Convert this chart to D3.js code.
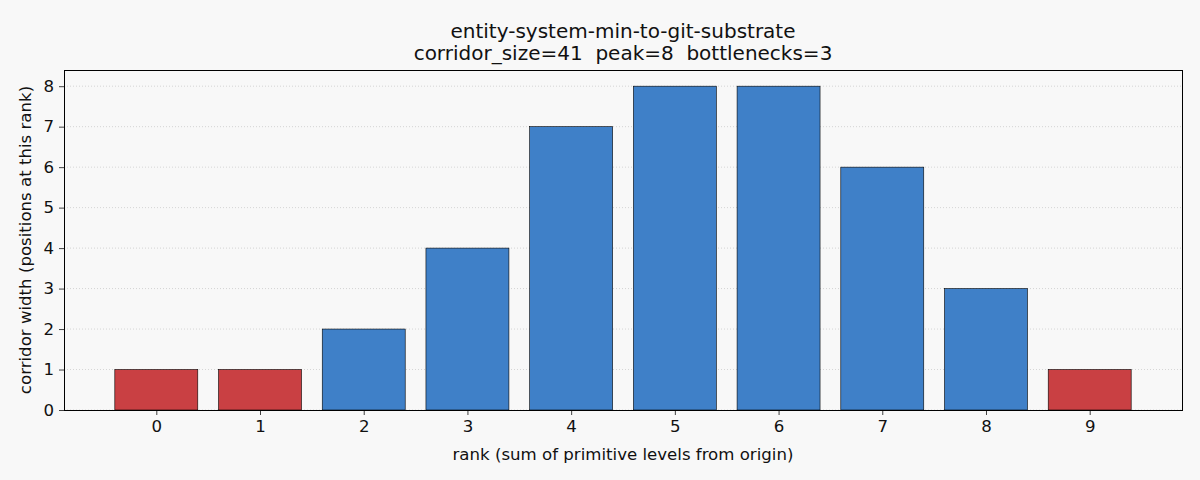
<!DOCTYPE html>
<html>
<head>
<meta charset="utf-8">
<script src="https://cdn.jsdelivr.net/npm/d3@7"></script>
<style>
  body { margin: 0; background: #f8f8f8; }
  svg { font-family: "DejaVu Sans", sans-serif; }
</style>
</head>
<body>
<div id="chart"></div>
<script>
// corridor widths per rank
let ranks = [0, 1, 2, 3, 4, 5, 6, 7, 8, 9];
let widths = [1, 1, 2, 4, 7, 8, 8, 6, 3, 1];
let bottleneck = [true, true, false, false, false, false, false, false, false, true];
let yTicks = [0, 1, 2, 3, 4, 5, 6, 7, 8];

let width = 1200, height = 480;
let margin = {top: 70, right: 18, bottom: 70, left: 64};
let fill_colors = {normal: "#3f80c8", bottleneck: "#c94043"};

let svg = d3.select("#chart").append("svg")
    .attr("width", width)
    .attr("height", height);

svg.append("rect")
    .attr("width", width)
    .attr("height", height)
    .style("fill", "#f8f8f8");

let x = d3.scaleLinear()
    .domain([-0.4 - 0.49, 9.4 + 0.49])
    .range([margin.left, width - margin.right]);

let y = d3.scaleLinear()
    .domain([0, 8.4])
    .range([height - margin.bottom, margin.top]);

let barW = x(0.8) - x(0);

// grid
svg.append("g")
    .selectAll("line")
    .data(yTicks)
    .enter()
    .append("line")
    .attr("x1", margin.left)
    .attr("x2", width - margin.right)
    .attr("y1", d => y(d))
    .attr("y2", d => y(d))
    .style("stroke", "#cccccc")
    .style("stroke-width", 0.8)
    .style("stroke-dasharray", "1,2");

// bars
svg.append("g")
    .selectAll("rect")
    .data(ranks)
    .enter()
    .append("rect")
    .attr("x", d => x(d - 0.4))
    .attr("y", (d, i) => y(widths[i]))
    .attr("width", barW)
    .attr("height", (d, i) => y(0) - y(widths[i]))
    .style("fill", (d, i) => bottleneck[i] ? fill_colors.bottleneck : fill_colors.normal)
    .style("stroke", "#000")
    .style("stroke-width", 0.6);

// axes
let xAxis = svg.append("g")
    .attr("transform", "translate(0," + y(0) + ")")
    .call(d3.axisBottom(x).tickValues(ranks).tickFormat(d3.format("d")).tickSize(5).tickPadding(5));

let yAxis = svg.append("g")
    .attr("transform", "translate(" + margin.left + ",0)")
    .call(d3.axisLeft(y).tickValues(yTicks).tickFormat(d3.format("d")).tickSize(5).tickPadding(5));

[xAxis, yAxis].forEach(function (a) {
    a.select(".domain").remove();
    a.selectAll("text")
        .style("font-size", "16.6px")
        .style("font-family", "DejaVu Sans")
        .attr("fill", "#111");
    a.selectAll("line").style("stroke", "#111").style("stroke-width", 0.8);
});

// frame
svg.append("rect")
    .attr("x", margin.left)
    .attr("y", margin.top)
    .attr("width", width - margin.right - margin.left)
    .attr("height", height - margin.bottom - margin.top)
    .attr("shape-rendering", "crispEdges")
    .style("fill", "none")
    .style("stroke", "#000")
    .style("stroke-width", 1);

// labels
svg.append("text")
    .attr("x", (margin.left + width - margin.right) / 2)
    .attr("y", 460)
    .attr("text-anchor", "middle")
    .style("font-size", "16.6px")
    .style("fill", "#111")
    .text("rank (sum of primitive levels from origin)");

svg.append("text")
    .attr("transform", "translate(31," + (margin.top + height - margin.bottom) / 2 + ") rotate(-90)")
    .attr("text-anchor", "middle")
    .style("font-size", "16.6px")
    .style("fill", "#111")
    .text("corridor width (positions at this rank)");

let title = svg.append("text")
    .attr("text-anchor", "middle")
    .style("font-size", "20px")
    .style("fill", "#111");
title.append("tspan")
    .attr("x", (margin.left + width - margin.right) / 2)
    .attr("y", 38)
    .text("entity-system-min-to-git-substrate");
title.append("tspan")
    .attr("x", (margin.left + width - margin.right) / 2)
    .attr("y", 60)
    .text("corridor_size=41\u00a0\u00a0peak=8\u00a0\u00a0bottlenecks=3");
</script>
</body>
</html>
